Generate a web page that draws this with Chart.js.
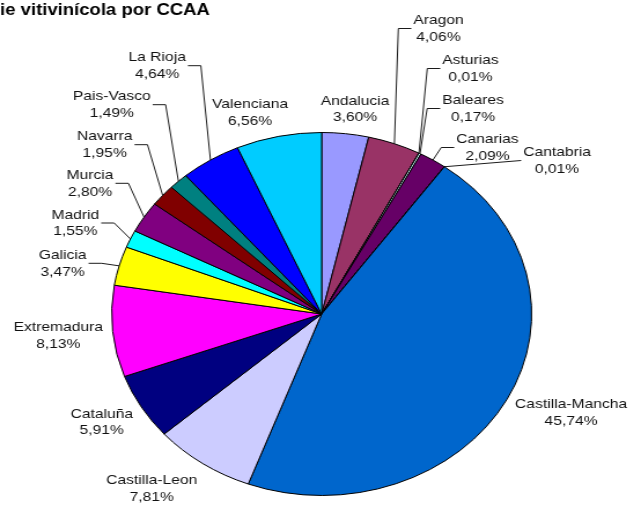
<!DOCTYPE html>
<html lang="es">
<head>
    <meta charset="UTF-8">
    <title>Superficie vitivinícola por CCAA</title>
    <script src="https://cdn.jsdelivr.net/npm/chart.js"></script>
    <style>
        html, body { margin: 0; padding: 0; background: #fff; overflow: hidden; }
        /* the original picture is stretched sideways, so stretch the canvas the same way */
        #wrap { width: 543px; height: 505px; transform: scaleX(1.157); transform-origin: 0 0; }
    </style>
</head>
<body>
    <div id="wrap">
        <canvas id="pieChart" width="543" height="505"></canvas>
    </div>

    <script>
        const STRETCH = 1.157;

        // Data
        const titleText = 'ie vitivinícola por CCAA';
        const regions = ['Andalucia', 'Aragon', 'Asturias', 'Baleares', 'Canarias', 'Cantabria',
            'Castilla-Mancha', 'Castilla-Leon', 'Cataluña', 'Extremadura', 'Galicia', 'Madrid',
            'Murcia', 'Navarra', 'Pais-Vasco', 'La Rioja', 'Valenciana'];
        const shares = [3.60, 4.06, 0.01, 0.17, 2.09, 0.01, 45.74, 7.81, 5.91, 8.13, 3.47, 1.55,
            2.80, 1.95, 1.49, 4.64, 6.56];
        const shareLabels = ['3,60%', '4,06%', '0,01%', '0,17%', '2,09%', '0,01%', '45,74%', '7,81%',
            '5,91%', '8,13%', '3,47%', '1,55%', '2,80%', '1,95%', '1,49%', '4,64%', '6,56%'];

        // Styles
        const sliceColors = ['#9999FF', '#993366', '#FFFFCC', '#CCFFFF', '#660066', '#FF8080',
            '#0066CC', '#CCCCFF', '#000080', '#FF00FF', '#FFFF00', '#00FFFF',
            '#800080', '#800000', '#008080', '#0000FF', '#00CCFF'];

        // Label placement (picture x, y of first line centre, leader type)
        const labelPlaces = [
            [355, 101, null], [438.5, 20.5, 'elbowLeft'], [470.5, 60.5, 'elbowLeft'],
            [473, 100.5, 'elbowLeft'], [487.5, 139.5, 'elbowLeft'], [557, 152.5, 'direct'],
            [571, 404.7, null], [151.7, 480.3, null], [101.8, 413.8, null], [58.3, 327.5, null],
            [62.7, 255.3, 'elbowRight'], [75.3, 215, 'elbowRight'], [90, 175.3, 'elbowRight'],
            [104.7, 136.7, 'elbowRight'], [111.7, 96.7, 'elbowRight'], [157.2, 57.7, 'elbowRight'],
            [250, 104.3, null]
        ];

        // Labels, leader lines and title
        const labelPlugin = {
            id: 'pieLabels',
            afterDraw(chart) {
                const ctx = chart.ctx;
                const arcs = chart.getDatasetMeta(0).data;
                ctx.save();

                ctx.fillStyle = '#000';
                ctx.font = 'bold 16px "Liberation Sans", Arial, sans-serif';
                ctx.textAlign = 'left';
                ctx.textBaseline = 'alphabetic';
                ctx.fillText(titleText, 0, 15);

                ctx.font = '13.5px "Liberation Sans", Arial, sans-serif';
                ctx.textAlign = 'center';
                ctx.textBaseline = 'middle';
                ctx.strokeStyle = '#000';
                ctx.lineWidth = 0.9;

                arcs.forEach((arc, i) => {
                    const [px, py, leader] = labelPlaces[i];
                    const x = px / STRETCH;
                    ctx.fillStyle = '#111';
                    ctx.fillText(regions[i], x, py);
                    ctx.fillText(shareLabels[i], x, py + 16.5);
                    if (!leader) return;

                    const p = arc.getProps(['x', 'y', 'startAngle', 'endAngle', 'outerRadius'], true);
                    const mid = (p.startAngle + p.endAngle) / 2;
                    const ex = p.x + p.outerRadius * Math.cos(mid);
                    const ey = p.y + p.outerRadius * Math.sin(mid);
                    const half = Math.max(ctx.measureText(regions[i]).width,
                        ctx.measureText(shareLabels[i]).width) / 2;
                    const gap = 2 / STRETCH;
                    const elbow = 13 / STRETCH;
                    const ay = py + 8;

                    ctx.beginPath();
                    if (leader === 'elbowLeft' || leader === 'direct') {
                        const ax = x - half - gap;
                        ctx.moveTo(ax, ay);
                        if (leader === 'elbowLeft') ctx.lineTo(ax - elbow, ay);
                    } else {
                        const ax = x + half + gap;
                        ctx.moveTo(ax, ay);
                        ctx.lineTo(ax + elbow, ay);
                    }
                    ctx.lineTo(ex, ey);
                    ctx.stroke();
                });
                ctx.restore();
            }
        };

        const ctx = document.getElementById('pieChart').getContext('2d');
        const pieChart = new Chart(ctx, {
            type: 'pie',
            data: {
                labels: regions,
                datasets: [{
                    data: shares,
                    backgroundColor: sliceColors,
                    borderColor: '#000',
                    borderWidth: 1,
                    hoverOffset: 0
                }]
            },
            options: {
                responsive: false,
                animation: false,
                events: [],
                layout: { padding: { left: 96, right: 83, top: 132, bottom: 9 } },
                plugins: {
                    legend: { display: false },
                    tooltip: { enabled: false }
                }
            },
            plugins: [labelPlugin]
        });
    </script>
</body>
</html>
